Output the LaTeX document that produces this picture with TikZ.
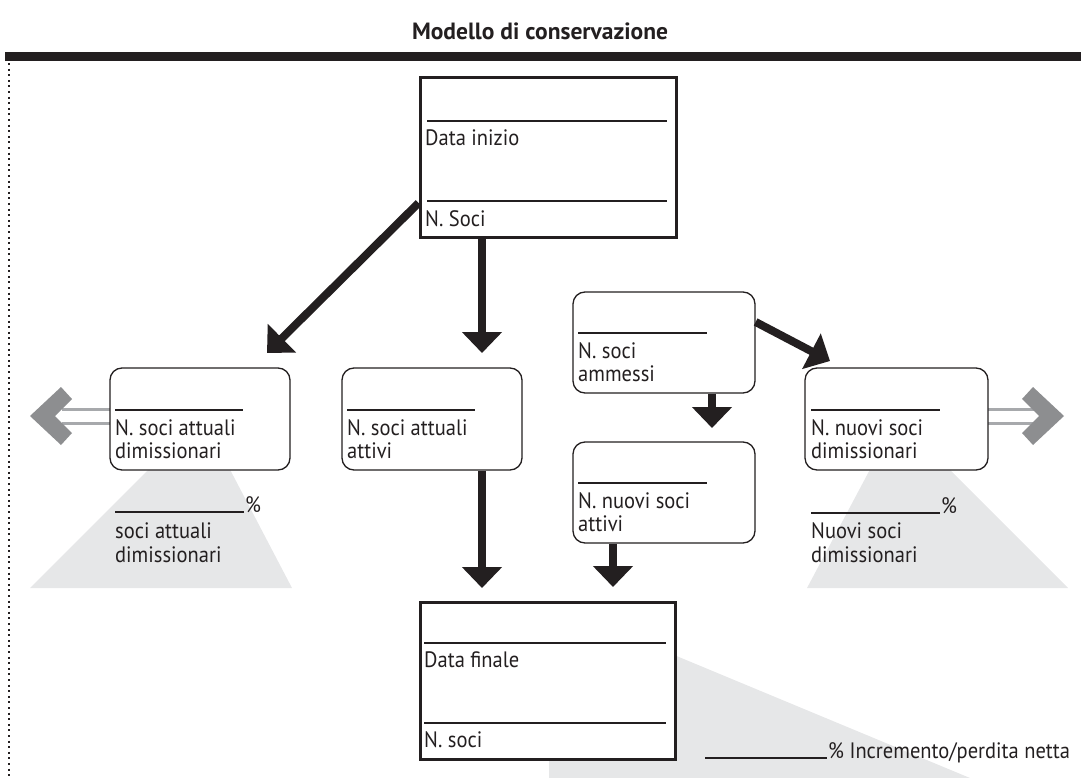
\documentclass[tikz,border=0pt]{standalone}
\usepackage{fontspec}
\setmainfont{PT Sans}[FakeStretch=0.92]
\newfontfamily\titlefont{PT Sans}
\usetikzlibrary{arrows.meta,calc}
\definecolor{ink}{HTML}{231F20}
\definecolor{shade}{HTML}{E6E7E8}
\definecolor{chev}{HTML}{8D8E90}
\definecolor{chevline}{HTML}{A7A9AC}
\begin{document}
\begin{tikzpicture}[x=1pt,y=-1pt,
  sqbox/.style={draw=ink,line width=3pt,fill=white,inner sep=0pt},
  rbox/.style={draw=ink,line width=1.3pt,fill=white,rounded corners=12pt,inner sep=0pt},
  txt/.style={anchor=base west,inner sep=0pt,text=ink,font=\fontsize{22.3}{23}\selectfont},
  rule/.style={draw=ink,line width=1.1pt},
  bigarrow/.style={draw=ink,line width=8pt,-{Triangle[length=21pt,width=39pt]}},
  grayline/.style={draw=chevline,line width=3pt},
  chevron/.style={fill=chev},
  tint/.style={fill=shade}]
\useasboundingbox (0,0) rectangle (1081,778);
% title and bar
\node[font=\titlefont\fontsize{23.5}{26}\bfseries\selectfont,text=ink] (title) at (540,31) {Modello di conservazione};
\fill[ink] (5,52) rectangle (1081,61);
\draw[ink,line width=2pt,dash pattern=on 2pt off 3.6pt] (9,63) -- (9,778);
% shaded backgrounds
\fill[tint] (158,460) -- (225,460) -- (292,588) -- (30,588) -- cycle;
\fill[tint] (875,460) -- (940,460) -- (1068,588) -- (807,588) -- cycle;
\fill[tint] (549,603) -- (970,778) -- (549,778) -- cycle;
% gray side arrows
\draw[grayline] (110,409) -- (62,409);
\draw[grayline] (110,423) -- (62,423);
\fill[chevron] (30,416) -- (61,387) -- (72,399) -- (55,416) -- (72,433) -- (61,445) -- cycle;
\draw[grayline] (988,409) -- (1036,409);
\draw[grayline] (988,423) -- (1036,423);
\fill[chevron] (1064,416) -- (1033,387) -- (1022,399) -- (1039,416) -- (1022,433) -- (1033,445) -- cycle;
% boxes
\node[sqbox,minimum width=256pt,minimum height=159pt] (top) at (548,157.5) {};
\node[sqbox,minimum width=255pt,minimum height=157pt] (bot) at (547.5,680.5) {};
\node[rbox,minimum width=180pt,minimum height=102pt] (attdim) at (200,419) {};
\node[rbox,minimum width=180pt,minimum height=102pt] (attatt) at (432,419) {};
\node[rbox,minimum width=182pt,minimum height=101pt] (amm) at (664,342.5) {};
\node[rbox,minimum width=182pt,minimum height=101pt] (nuoatt) at (664,492.5) {};
\node[rbox,minimum width=183pt,minimum height=102pt] (nuodim) at (896.5,419) {};
% top box contents
\draw[rule] (427,121) -- (667,121);
\draw[rule] (427,201) -- (667,201);
\node[txt] (t1) at (425,146) {Data inizio};
\node[txt] (t2) at (425,226) {N. Soci};
% bottom box contents
\draw[rule] (424,643) -- (666,643);
\draw[rule] (424,723) -- (666,723);
\node[txt] (b1) at (424,667) {Data finale};
\node[txt] (b2) at (424,747) {N. soci};
% rounded box contents
\draw[rule] (115,410) -- (243,410);
\node[txt] (a1) at (115,435) {N. soci attuali};
\node[txt] (a2) at (115,458) {dimissionari};
\draw[rule] (347,410) -- (475,410);
\node[txt] (c1) at (347,435) {N. soci attuali};
\node[txt] (c2) at (347,458) {attivi};
\draw[rule] (578,333) -- (707,333);
\node[txt] (m1) at (578,358) {N. soci};
\node[txt] (m2) at (578,381) {ammessi};
\draw[rule] (578,483) -- (707,483);
\node[txt] (n1) at (578,508) {N. nuovi soci};
\node[txt] (n2) at (578,531) {attivi};
\draw[rule] (811,410) -- (940,410);
\node[txt] (d1) at (811,435) {N. nuovi soci};
\node[txt] (d2) at (811,458) {dimissionari};
% percentage labels
\draw[rule] (115,512) -- (244,512);
\node[txt] (p1) at (245,512) {\%};
\node[txt] (p2) at (115,538) {soci attuali};
\node[txt] (p3) at (115,562) {dimissionari};
\draw[rule] (811,513) -- (940,513);
\node[txt] (q1) at (941,513) {\%};
\node[txt] (q2) at (811,538) {Nuovi soci};
\node[txt] (q3) at (811,562) {dimissionari};
\draw[rule] (705,758) -- (827,758);
\node[txt] (r1) at (828,758) {\% Incremento/perdita netta};
% arrows
\coordinate (tipA) at (267,353);
\coordinate (tipB) at (482,353);
\coordinate (tipC) at (482,588);
\coordinate (tipD) at (712,428);
\coordinate (tipE) at (830,361);
\coordinate (tipF) at (613,587);
\draw[bigarrow] (top.west |- 0,203) -- (tipA);
\draw[bigarrow] (top.south -| tipB) -- (tipB);
\draw[bigarrow] (attatt.south -| tipC) -- (tipC);
\draw[bigarrow] (amm.south -| tipD) -- (tipD);
\draw[bigarrow] (amm.east |- 0,322) -- (tipE);
\draw[bigarrow] (nuoatt.south -| tipF) -- (tipF);
\end{tikzpicture}
\end{document}
